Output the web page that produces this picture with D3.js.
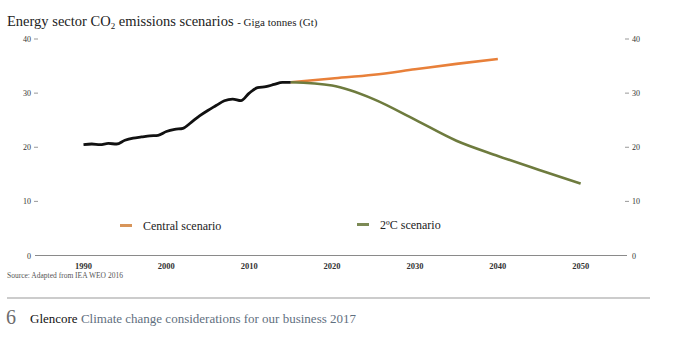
<!DOCTYPE html>
<html lang="en">
<head>
  <meta charset="UTF-8" />
  <title>Energy sector CO2 emissions scenarios</title>
  <script src="https://d3js.org/d3.v7.min.js"></script>
  <style>
    body {
      margin: 0;
      padding: 0;
      background: #fff;
    }
    svg {
      display: block;
      font-family: "Liberation Serif", "DejaVu Serif", serif;
    }
    .tick-label {
      font-size: 8px;
      fill: #333;
    }
    .year-label {
      font-size: 8.5px;
      font-weight: bold;
      fill: #333;
    }
    .legend-text {
      font-size: 12px;
      fill: #222;
    }
  </style>
</head>
<body>
  <svg width="673" height="339"></svg>

  <script>
    // historical emissions (Gt)
    const histYears = [1990, 1991, 1992, 1993, 1994, 1995, 1996, 1997, 1998, 1999,
                       2000, 2001, 2002, 2003, 2004, 2005, 2006, 2007, 2008, 2009,
                       2010, 2011, 2012, 2013, 2014, 2015];
    const histValues = [20.5, 20.6, 20.5, 20.7, 20.6, 21.3, 21.7, 21.9, 22.1, 22.2,
                        22.9, 23.3, 23.5, 24.6, 25.8, 26.8, 27.7, 28.6, 28.9, 28.6,
                        30.0, 31.0, 31.2, 31.6, 32.0, 32.0];

    // scenarios
    const centralYears = [2015, 2020, 2025, 2030, 2035, 2040];
    const centralValues = [32.0, 32.7, 33.4, 34.4, 35.4, 36.3];
    const twoDegYears = [2015, 2020, 2025, 2030, 2035, 2040, 2045, 2050];
    const twoDegValues = [32.0, 31.4, 28.9, 25.1, 21.2, 18.4, 15.8, 13.3];

    const xTicks = [1990, 2000, 2010, 2020, 2030, 2040, 2050];
    const yTicks = [0, 10, 20, 30, 40];

    const svg = d3.select("svg");

    const x = d3.scaleLinear().domain([1990, 2050]).range([83.5, 580.7]);
    const y = d3.scaleLinear().domain([0, 40]).range([255.5, 39]);

    // title
    const title = svg.append("text")
      .attr("x", 7)
      .attr("y", 26)
      .attr("fill", "#222")
      .style("font-size", "14.5px");
    title.append("tspan").text("Energy sector CO");
    title.append("tspan").attr("font-size", "9px").attr("dy", 3).text("2");
    title.append("tspan").attr("dy", -3).text(" emissions scenarios ");
    title.append("tspan").attr("font-size", "11px").text("- Giga tonnes (Gt)");

    // baseline
    svg.append("line")
      .attr("x1", 35).attr("x2", 627)
      .attr("y1", y(0)).attr("y2", y(0))
      .attr("stroke", "#8a8a8a")
      .attr("stroke-width", 1.2);

    // left ticks
    const leftAxis = svg.append("g");
    leftAxis.selectAll("line")
      .data(yTicks.filter(d => d > 0))
      .enter().append("line")
      .attr("x1", 34).attr("x2", 38)
      .attr("y1", d => y(d)).attr("y2", d => y(d))
      .attr("stroke", "#999");
    leftAxis.selectAll("text")
      .data(yTicks)
      .enter().append("text")
      .attr("class", "tick-label")
      .attr("x", 31)
      .attr("y", d => y(d) + 3)
      .attr("text-anchor", "end")
      .text(d => d);

    // right ticks
    const rightAxis = svg.append("g");
    rightAxis.selectAll("line")
      .data(yTicks.filter(d => d > 0))
      .enter().append("line")
      .attr("x1", 625).attr("x2", 629)
      .attr("y1", d => y(d)).attr("y2", d => y(d))
      .attr("stroke", "#999");
    rightAxis.selectAll("text")
      .data(yTicks)
      .enter().append("text")
      .attr("class", "tick-label")
      .attr("x", 632)
      .attr("y", d => y(d) + 3)
      .text(d => d);

    // year labels
    svg.append("g").selectAll("text")
      .data(xTicks)
      .enter().append("text")
      .attr("class", "year-label")
      .attr("x", d => x(d))
      .attr("y", 269)
      .attr("text-anchor", "middle")
      .text(d => d);

    const line = d3.line()
      .x(d => x(d[0]))
      .y(d => y(d[1]))
      .curve(d3.curveMonotoneX);

    svg.append("path")
      .datum(d3.zip(centralYears, centralValues))
      .attr("d", line)
      .attr("fill", "none")
      .attr("stroke", "#e8803a")
      .attr("stroke-width", 2.6);

    svg.append("path")
      .datum(d3.zip(twoDegYears, twoDegValues))
      .attr("d", line)
      .attr("fill", "none")
      .attr("stroke", "#6e7b3e")
      .attr("stroke-width", 2.6);

    svg.append("path")
      .datum(d3.zip(histYears, histValues))
      .attr("d", line)
      .attr("fill", "none")
      .attr("stroke", "#111")
      .attr("stroke-width", 2.8)
      .attr("stroke-linejoin", "round");

    // legend
    const legend = [
      { label: "Central scenario", color: "#d8955a", x: 120, y: 225.5 },
      { label: "2ºC scenario", color: "#7c8a55", x: 357, y: 224.5 }
    ];
    const lg = svg.append("g").selectAll("g")
      .data(legend)
      .enter().append("g")
      .attr("transform", d => `translate(${d.x},${d.y})`);
    lg.append("line")
      .attr("x1", 0).attr("x2", 12)
      .attr("stroke", d => d.color)
      .attr("stroke-width", 3);
    lg.append("text")
      .attr("class", "legend-text")
      .attr("x", 23)
      .attr("y", 4)
      .text(d => d.label);

    // source
    svg.append("text")
      .attr("x", 7)
      .attr("y", 278)
      .attr("fill", "#555")
      .style("font-size", "7.5px")
      .text("Source: Adapted from IEA WEO 2016");

    // footer
    svg.append("line")
      .attr("x1", 7).attr("x2", 650)
      .attr("y1", 298).attr("y2", 298)
      .attr("stroke", "#999")
      .attr("stroke-width", 1.2);

    svg.append("text")
      .attr("x", 6)
      .attr("y", 324)
      .attr("fill", "#6d6d6d")
      .style("font-size", "20px")
      .text("6");

    const foot = svg.append("text")
      .attr("x", 30)
      .attr("y", 323)
      .style("font-size", "13px");
    foot.append("tspan").attr("fill", "#111").text("Glencore ");
    foot.append("tspan").attr("fill", "#5f6f80").text("Climate change considerations for our business 2017");
  </script>
</body>
</html>
